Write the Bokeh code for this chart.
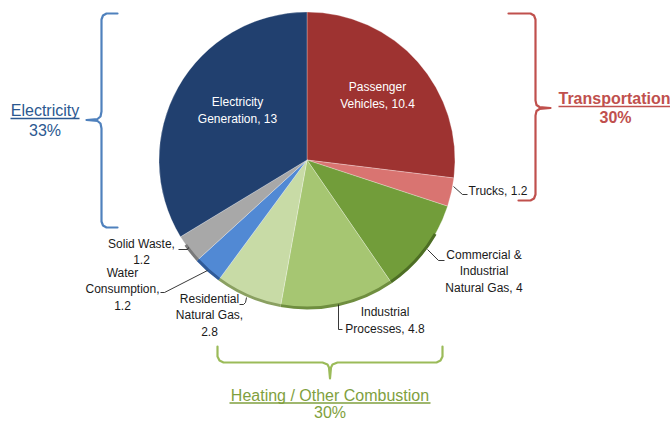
from bokeh.plotting import figure
from bokeh.models import Range1d, ColumnDataSource
from bokeh.core.properties import value
from bokeh.embed import file_html
from bokeh.resources import INLINE
import numpy as np

# ---------------- data ----------------
categories = ["Passenger Vehicles", "Trucks", "Commercial & Industrial Natural Gas",
              "Industrial Processes", "Residential Natural Gas", "Water Consumption",
              "Solid Waste", "Electricity Generation"]
values = [10.4, 1.2, 4, 4.8, 2.8, 1.2, 1.2, 13]
slice_labels = ["Passenger\nVehicles, 10.4", "Trucks, 1.2", "Commercial &\nIndustrial\nNatural Gas, 4",
                "Industrial\nProcesses, 4.8", "Residential\nNatural Gas,\n2.8",
                "Water\nConsumption,\n1.2", "Solid Waste,\n1.2", "Electricity\nGeneration, 13"]
groups = ["Electricity", "Transportation", "Heating / Other Combustion"]
group_pcts = ["33%", "30%", "30%"]

# ---------------- styles ----------------
colors = ["#9e3331", "#d97471", "#729d3a", "#a6c672", "#c8dba6", "#5189d4", "#a8a8a8", "#21406f"]
rim_colors = ["#6e2020", "#a04a48", "#4d6e24", "#6f8e3f", "#8aa061", "#2f5a99", "#7a7a7a", "#152a4a"]
FONT = "Liberation Sans"
W, H = 670, 421

def P(px, py):
    return px, H - py

p = figure(width=W, height=H, output_backend="svg", toolbar_location=None,
           x_range=Range1d(0, W), y_range=Range1d(0, H), min_border=0)
p.axis.visible = False
p.grid.visible = False
p.outline_line_color = None
p.background_fill_color = "white"
p.border_fill_color = "white"

# ---------------- pie ----------------
cx, cy = P(306.5, 159.5)
R = 148
total = sum(values)
cum = np.concatenate([[0], np.cumsum(values)])
start_deg = 90 - 360 * cum[:-1] / total
end_deg = 90 - 360 * cum[1:] / total

src = ColumnDataSource(dict(s=np.radians(end_deg), e=np.radians(start_deg), c=colors))
p.wedge(x=cx, y=cy, radius=R, start_angle="s", end_angle="e", fill_color="c",
        line_color="white", line_alpha=0.35, line_width=0.8, source=src)

# darker bottom rim (3D side look)
lo_lim, hi_lim = -145, -30
rs, re_, rc = [], [], []
for sd, ed, c in zip(start_deg, end_deg, rim_colors):
    lo, hi = max(ed, lo_lim), min(sd, hi_lim)
    if hi > lo:
        rs.append(np.radians(lo)); re_.append(np.radians(hi)); rc.append(c)
p.annular_wedge(x=cx, y=cy, inner_radius=R - 1.5, outer_radius=R + 1.5,
                start_angle=rs, end_angle=re_, fill_color=rc, line_color=None)

# ---------------- slice labels ----------------
for i, pos in [(0, (377, 95)), (7, (237, 110))]:
    x, y = P(*pos)
    p.text(x=[x], y=[y], text=[slice_labels[i]], text_color="white",
           text_font=value(FONT), text_font_size="12px",
           text_align="center", text_baseline="middle", text_line_height=1.17)

outside = {2: (483.5, 271), 3: (384.5, 320), 4: (209, 315), 5: (122, 289), 6: (141, 251.5)}
for i, pos in outside.items():
    x, y = P(*pos)
    p.text(x=[x], y=[y], text=[slice_labels[i]], text_color="#1a1a1a",
           text_font=value(FONT), text_font_size="12px",
           text_align="center", text_baseline="middle", text_line_height=1.17)
x, y = P(468, 190)
p.text(x=[x], y=[y], text=[slice_labels[1]], text_color="#1a1a1a",
       text_font=value(FONT), text_font_size="12px",
       text_align="left", text_baseline="middle")

# leader lines
leaders = [
    [(453, 186), (462, 194), (467, 194)],
    [(427, 249), (438, 260), (444, 260)],
    [(338, 304), (338, 329), (342, 329)],
    [(246, 297), (245, 302), (243, 304), (239, 304)],
    [(207, 270), (164, 292), (160, 292)],
    [(188, 247), (187, 249), (178, 249)],
]
lx = [[P(a, b)[0] for a, b in L] for L in leaders]
ly = [[P(a, b)[1] for a, b in L] for L in leaders]
p.multi_line(xs=lx, ys=ly, line_color="#222222", line_width=0.9)

# ---------------- brackets ----------------
def poly(pts, color):
    xs = [P(a, b)[0] for a, b in pts]
    ys = [P(a, b)[1] for a, b in pts]
    p.line(xs, ys, line_color=color, line_width=2.2, line_join="round", line_cap="round")

blue, red, green = "#4f81bd", "#c0504d", "#9bbb59"
poly([(117, 13), (106, 13), (102.5, 15), (101, 19), (101, 111), (100, 116), (97, 118.5), (86, 119.5),
      (97, 120.5), (100, 123), (101, 128), (101, 221), (102.5, 225), (106, 227), (117, 227)], blue)
poly([(508, 13), (530, 13), (533.5, 15), (535, 19), (535, 100), (536, 104.5), (539, 106.5), (550, 107.5),
      (539, 108.5), (536, 110.5), (535, 115), (535, 194), (533.5, 198), (530, 200), (518, 200)], red)
poly([(217, 346), (217, 356), (219, 360), (223, 362), (322, 362), (327, 364), (328.5, 367), (329.5, 378),
      (330.5, 367), (332, 364), (337, 362), (436, 362), (440, 360), (442, 356), (442, 346)], green)

# ---------------- group labels ----------------
def label(txt, px, py, color, bold=False, align="center", size="16px"):
    x, y = P(px, py)
    p.text(x=[x], y=[y], text=[txt], text_color=color, text_font=value(FONT),
           text_font_size=size, text_font_style="bold" if bold else "normal",
           text_align=align, text_baseline="middle")

def uline(x0, x1, py, color):
    a, y = P(x0, py)
    b, _ = P(x1, py)
    p.line([a, b], [y, y], line_color=color, line_width=1.3)

ctext_blue, ctext_green = "#2b5890", "#7f9f3e"
label(groups[0], 44.5, 110, ctext_blue)
uline(10, 79, 118, ctext_blue)
label(group_pcts[0], 44.5, 130, ctext_blue)

label(groups[1], 558, 98, red, bold=True, align="left")
uline(558, 680, 106, red)
label(group_pcts[1], 615, 117, red, bold=True)

label(groups[2], 329.5, 395, ctext_green)
uline(229, 430, 402.5, ctext_green)
label(group_pcts[2], 329.5, 412, ctext_green)

open("out.html", "w").write(file_html(p, INLINE))
